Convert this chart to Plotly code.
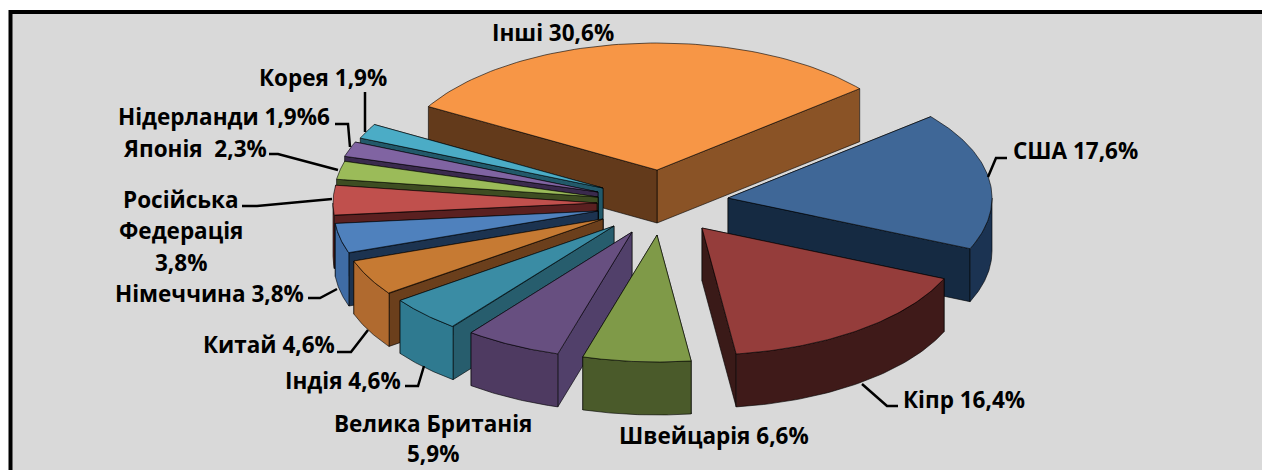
import numpy as np
import plotly.graph_objects as go

# ---------- data ----------
categories = ["Інші", "США", "Кіпр", "Швейцарія", "Велика Британія", "Індія",
              "Китай", "Німеччина", "Російська Федерація", "Японія", "Нідерланди", "Корея"]
values = [30.6, 17.6, 16.4, 6.6, 5.9, 4.6, 4.6, 3.8, 3.8, 2.3, 1.9, 1.9]

# ---------- style ----------
top_colors = ["#f79646", "#3f6797", "#953d3b", "#7f9a48", "#674f80", "#3a8ca4",
              "#c67a33", "#4f81bd", "#c0504d", "#9bbb59", "#8064a2", "#4bacc6"]
start_wall = ["#633a1b", "#152a42", "#3a1a18", "#4c5c2c", "#51406a", "#275d6d",
              "#6b3f1c", "#1c3350", "#5a2020", "#3e4d22", "#3a2a4d", "#22596a"]
end_wall = ["#8a5326", "#152a42", "#3a1a18", "#4c5c2c", "#51406a", "#275d6d",
            "#6b3f1c", "#1c3350", "#5a2020", "#3e4d22", "#3a2a4d", "#22596a"]
outer_wall = ["#633a1b", "#1b3352", "#3f1a19", "#4a5a2a", "#4e3a61", "#2f7a90",
              "#b06a2f", "#3f6ca5", "#7a2f2d", "#5f7436", "#4e3d63", "#2e6d7f"]
apex_x = [657, 728, 702, 657, 632, 614, 603, 598, 597, 598, 598, 603]
apex_y = [170, 198, 228, 235, 232, 226, 219, 211, 203, 197, 192, 188]
RX, RY, DEPTH, START = 264, 127, 53, 300.0
draw_order = [0, 1, 2, 11, 10, 9, 8, 7, 6, 5, 4, 3]

fig = go.Figure()


def poly(xs, ys, fill, line="rgba(0,0,0,0.6)"):
    xs, ys = list(xs), list(ys)
    fig.add_trace(go.Scatter(x=xs + xs[:1], y=ys + ys[:1], mode="lines", fill="toself",
                             fillcolor=fill, line=dict(color=line, width=1),
                             hoverinfo="skip", showlegend=False))


edges = START + np.cumsum([0] + values) * 3.6
for i in draw_order:
    t1, t2 = edges[i], edges[i + 1]
    ax, ay = apex_x[i], apex_y[i]
    px = lambda t: ax + RX * np.sin(np.radians(t))
    py = lambda t: ay - RY * np.cos(np.radians(t))
    walls = [(t1, start_wall[i]), (t2, end_wall[i])]
    if np.sin(np.radians((t1 + t2) / 2)) < 0:
        walls.reverse()
    for t, col in walls:
        poly([ax, px(t), px(t), ax], [ay, py(t), py(t) + DEPTH, ay + DEPTH], col)
    # outer wall: only the part turned towards the viewer
    lo, hi = (t1, t2)
    for shift in (0, -360):
        a, b = max(lo + shift, 90), min(hi + shift, 270)
        if a < b:
            ts = np.linspace(a, b, 50)
            poly(np.r_[px(ts), px(ts[::-1])], np.r_[py(ts), py(ts[::-1]) + DEPTH], outer_wall[i])
    ts = np.linspace(t1, t2, 80)
    poly(np.r_[ax, px(ts)], np.r_[ay, py(ts)], top_colors[i])

# ---------- labels ----------
labels = [
    ("Інші 30,6%", 553, 32), ("США 17,6%", 1075, 150), ("Кіпр 16,4%", 964, 399),
    ("Швейцарія 6,6%", 714, 435), ("Велика Британія", 433, 423), ("5,9%", 433, 453),
    ("Індія 4,6%", 343, 380), ("Китай 4,6%", 269, 344), ("Німеччина 3,8%", 209, 293),
    ("Російська", 181, 199), ("Федерація", 181, 230), ("3,8%", 181, 262),
    ("Японія  2,3%", 195, 148), ("Нідерланди 1,9%6", 224, 116), ("Корея 1,9%", 323, 77),
]
for text, x, y in labels:
    fig.add_annotation(x=x, y=y, xref="x", yref="y", text=f"<b>{text}</b>", showarrow=False,
                       font=dict(family="Open Sans", size=22.5, color="#000000"),
                       xanchor="center", yanchor="middle")

leaders = [
    [(365, 92), (365, 132)],
    [(335, 124), (348, 124), (350, 147)],
    [(269, 154), (278, 154), (338, 170)],
    [(242, 206), (257, 206), (332, 199)],
    [(1007, 158), (996, 158), (988, 177)],
    [(898, 406), (887, 406), (862, 384)],
    [(308, 298), (320, 298), (337, 289)],
    [(337, 352), (351, 352), (368, 330)],
    [(405, 386), (418, 386), (424, 366)],
]
for pts in leaders:
    fig.add_trace(go.Scatter(x=[p[0] for p in pts], y=[p[1] for p in pts], mode="lines",
                             line=dict(color="#000000", width=2.5), hoverinfo="skip", showlegend=False))

fig.update_layout(
    width=1262, height=470, margin=dict(l=0, r=0, t=0, b=0),
    paper_bgcolor="#ffffff", plot_bgcolor="#ffffff", showlegend=False,
    xaxis=dict(range=[0, 1262], visible=False, fixedrange=True),
    yaxis=dict(range=[470, 0], visible=False, fixedrange=True),
    shapes=[dict(type="rect", xref="x", yref="y", x0=10.5, y0=12, x1=1280, y1=490,
                 fillcolor="#d9d9d9", line=dict(color="#000000", width=4), layer="below")],
)
fig.write_html("out.html", config=dict(displayModeBar=False),
               post_script="document.body.style.margin='0';document.body.style.overflow='hidden';")
